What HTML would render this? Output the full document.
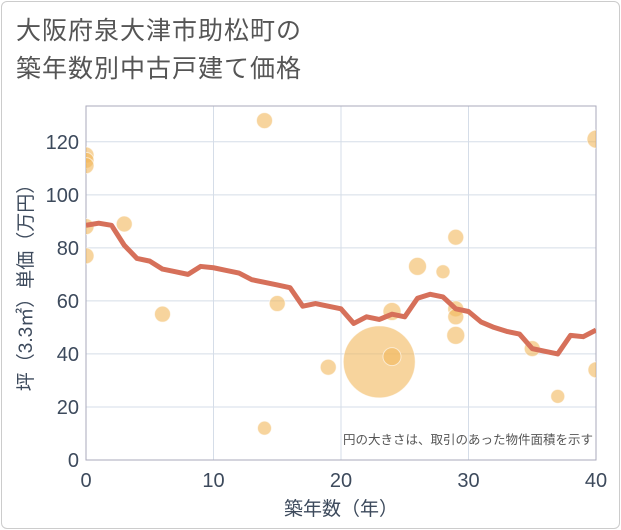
<!DOCTYPE html>
<html><head><meta charset="utf-8"><style>
body{margin:0;background:#fff;font-family:"Liberation Sans","Noto Sans CJK JP",sans-serif}
#card{position:absolute;left:1px;top:1px;width:617px;height:526px;border:1px solid #ccc;border-radius:6px;background:#fff}
#title{position:absolute;left:16px;top:12px;font-size:25px;line-height:38px;color:#555;letter-spacing:1px}
</style></head><body>
<div id="card"></div>
<div id="title">大阪府泉大津市助松町の<br>築年数別中古戸建て価格</div>
<svg id="chart" width="621" height="530" style="position:absolute;left:0;top:0"></svg>
<script>
const xTicks=[0,10,20,30,40];
const yTicks=[0,20,40,60,80,100,120];
const lineX=[0,1,2,3,4,5,6,7,8,9,10,11,12,13,14,15,16,17,18,19,20,21,22,23,24,25,26,27,28,29,30,31,32,33,34,35,36,37,38,39,40];
const lineY=[88.5,89.3,88.5,81,76,75,72,71,70,73,72.5,71.5,70.5,68,67,66,65,58,59,58,57,51.5,54,53,55,54,61,62.5,61.5,57,56,52,50,48.5,47.5,42,41,40,47,46.5,49];
const bubX=[0,0,0,0,0,3,6,14,14,15,19,23,24,24,26,28,29,29,29,29,35,37,40,40];
const bubY=[115,113,111,88,77,89,55,128,12,59,35,37,56,39,73,71,84,57,54,47,42,24,121,34];
const bubR=[8,8,8,8,8,8,8,8,7,8,8,36,9,9,9,7,8,8,8,9,8,7,9,8];
const L=86,R=596,T=106,B=460,xmax=40,ymax=133.5;
const sx=v=>L+(R-L)*v/xmax, sy=v=>B-(B-T)*v/ymax;
const svg=document.getElementById('chart');const NS='http://www.w3.org/2000/svg';
function mk(t,a,p){const e=document.createElementNS(NS,t);for(const k in a)e.setAttribute(k,a[k]);(p||svg).appendChild(e);return e;}
const defs=mk('defs',{});const cp=mk('clipPath',{id:'clip'},defs);mk('rect',{x:L,y:T,width:R-L,height:B-T},cp);
xTicks.forEach(v=>{const g=mk('line',{x1:sx(v),x2:sx(v),y1:T,y2:B,stroke:'#d5dde8','stroke-width':1});

const t=mk('text',{x:sx(v),y:B+27,'text-anchor':'middle','font-size':20,fill:'#3d4a5c'});t.textContent=v;
});
yTicks.forEach(v=>{const g=mk('line',{x1:L,x2:R,y1:sy(v),y2:sy(v),stroke:'#d5dde8','stroke-width':1});

const t=mk('text',{x:L-7,y:sy(v)+7,'text-anchor':'end','font-size':20,fill:'#3d4a5c'});t.textContent=v;
});
const fr=mk('rect',{x:L,y:T,width:R-L,height:B-T,fill:'none',stroke:'#aab','stroke-width':1});

const gb=mk('g',{'clip-path':'url(#clip)'});
bubX.forEach((x,i)=>{const c=mk('circle',{cx:sx(x),cy:sy(bubY[i]),r:bubR[i],fill:'rgba(242,184,92,0.6)',stroke:'rgba(255,255,255,0.6)','stroke-width':1},gb);
});
const pl=mk('polyline',{points:lineX.map((x,i)=>sx(x)+','+sy(lineY[i])).join(' '),fill:'none',stroke:'#d6705a','stroke-width':5,'stroke-linejoin':'round'},gb);

const n=mk('text',{x:R-3,y:444,'text-anchor':'end','font-size':12.5,fill:'#555'});n.textContent='円の大きさは、取引のあった物件面積を示す';

const xt=mk('text',{x:(L+R)/2,y:515,'text-anchor':'middle','font-size':19,fill:'#3d4a5c'});xt.textContent='築年数（年）';

const yt=mk('text',{x:0,y:0,'text-anchor':'middle','font-size':19,fill:'#3d4a5c',transform:'translate(32,'+((T+B)/2)+') rotate(-90)'});yt.textContent='坪（3.3㎡）単価（万円）';

</script>
</body></html>
